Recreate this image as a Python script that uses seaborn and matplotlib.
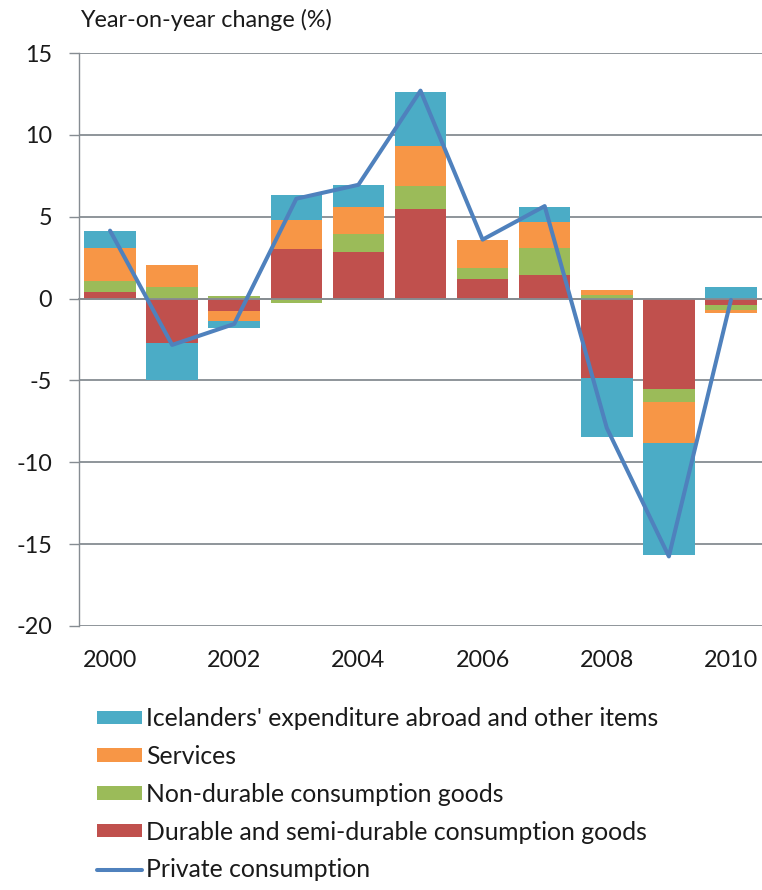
import numpy as np
import pandas as pd
import matplotlib
matplotlib.use("Agg")
import matplotlib.pyplot as plt
from matplotlib.patches import Patch
from matplotlib.lines import Line2D
import seaborn as sns

# Contributions to private consumption growth, percentage points
years = [2000, 2001, 2002, 2003, 2004, 2005, 2006, 2007, 2008, 2009, 2010]
durable = [0.40, -2.73, -0.75, 3.00, 2.85, 5.50, 1.20, 1.45, -4.87, -5.50, -0.38]
non_durable = [0.70, 0.73, 0.18, -0.28, 1.10, 1.40, 0.66, 1.63, 0.23, -0.80, -0.30]
services = [2.00, 1.33, -0.59, 1.80, 1.65, 2.40, 1.73, 1.57, 0.30, -2.55, -0.22]
abroad = [1.05, -2.24, -0.43, 1.53, 1.35, 3.30, 0.00, 0.95, -3.56, -6.80, 0.70]
private_consumption = [4.15, -2.83, -1.55, 6.10, 6.95, 12.70, 3.60, 5.65, -7.90, -15.75, -0.08]

series_names = [
    "Durable and semi-durable consumption goods",
    "Non-durable consumption goods",
    "Services",
    "Icelanders' expenditure abroad and other items",
]
series_values = [durable, non_durable, services, abroad]
series_colors = ["#C0504D", "#9BBB59", "#F79646", "#4BACC6"]
line_name = "Private consumption"
line_color = "#4F81BD"

y_ticks = [15, 10, 5, 0, -5, -10, -15, -20]
x_labels = ["2000", "2002", "2004", "2006", "2008", "2010"]

sns.set_theme(style="white")
plt.rcParams["font.family"] = ["Lato", "DejaVu Sans"]
plt.rcParams["axes.unicode_minus"] = False
grey = "#868C92"
text_color = "#1a1a1a"

fig = plt.figure(figsize=(7.62, 8.90), dpi=100)
W, H = 762, 890
ax = fig.add_axes([79 / W, (H - 626) / H, (W - 79) / W, (626 - 53) / H])

idx = np.arange(len(years))
pos_base = np.zeros(len(years))
neg_base = np.zeros(len(years))
for name, vals, col in zip(series_names, series_values, series_colors):
    v = np.asarray(vals, dtype=float)
    bottom = np.where(v >= 0, pos_base, neg_base)
    ax.bar(idx, v, bottom=bottom, width=0.83, color=col, linewidth=0, zorder=2)
    pos_base += np.where(v >= 0, v, 0)
    neg_base += np.where(v < 0, v, 0)

df = pd.DataFrame({"idx": idx, "value": private_consumption})
sns.lineplot(data=df, x="idx", y="value", color=line_color, linewidth=2.9,
             ax=ax, zorder=3)

ax.set_xlim(-0.5, len(years) - 0.5)
ax.set_ylim(-20, 15)
ax.set_yticks(y_ticks)
ax.yaxis.grid(True, color=grey, linewidth=1.3)
ax.set_axisbelow(True)
ax.set_xlabel("")
ax.set_ylabel("")

for s in ["top", "right"]:
    ax.spines[s].set_visible(False)
ax.spines["left"].set_color(grey)
ax.spines["left"].set_linewidth(1.0)
ax.spines["bottom"].set_position(("data", 0))
ax.spines["bottom"].set_color(grey)
ax.spines["bottom"].set_linewidth(1.3)

# small category-boundary ticks on the zero line
ax.set_xticks(np.arange(1.5, len(years) - 1, 2.0))
ax.set_xticklabels([])
ax.tick_params(axis="x", direction="out", length=6, width=1.0, color=grey)
ax.tick_params(axis="y", direction="out", length=7.5, width=1.0, color=grey,
               pad=12, labelsize=16.8, labelcolor=text_color, left=True)

# year labels along the bottom of the plot area
sec = ax.secondary_xaxis("bottom")
sec.set_xticks(idx[::2], x_labels)
sec.tick_params(length=0, pad=17.5, labelsize=16.8, labelcolor=text_color)
sec.spines["bottom"].set_visible(False)

fig.text(80 / W, 1 - 20 / H, "Year-on-year change (%)", fontsize=16.8,
         color=text_color, va="center", ha="left")

handles = [Patch(facecolor=c, edgecolor="none") for c in series_colors[::-1]]
handles.append(Line2D([0], [0], color=line_color, linewidth=2.9))
labels = series_names[::-1] + [line_name]
fig.legend(handles, labels, loc="upper left",
           bbox_to_anchor=(97 / W, 1 - 707 / H), frameon=False,
           fontsize=17.8, handlelength=1.8, handleheight=0.45,
           handletextpad=0.2, labelspacing=0.6, borderaxespad=0,
           borderpad=0, labelcolor=text_color)

fig.savefig("out.png", dpi=100)
